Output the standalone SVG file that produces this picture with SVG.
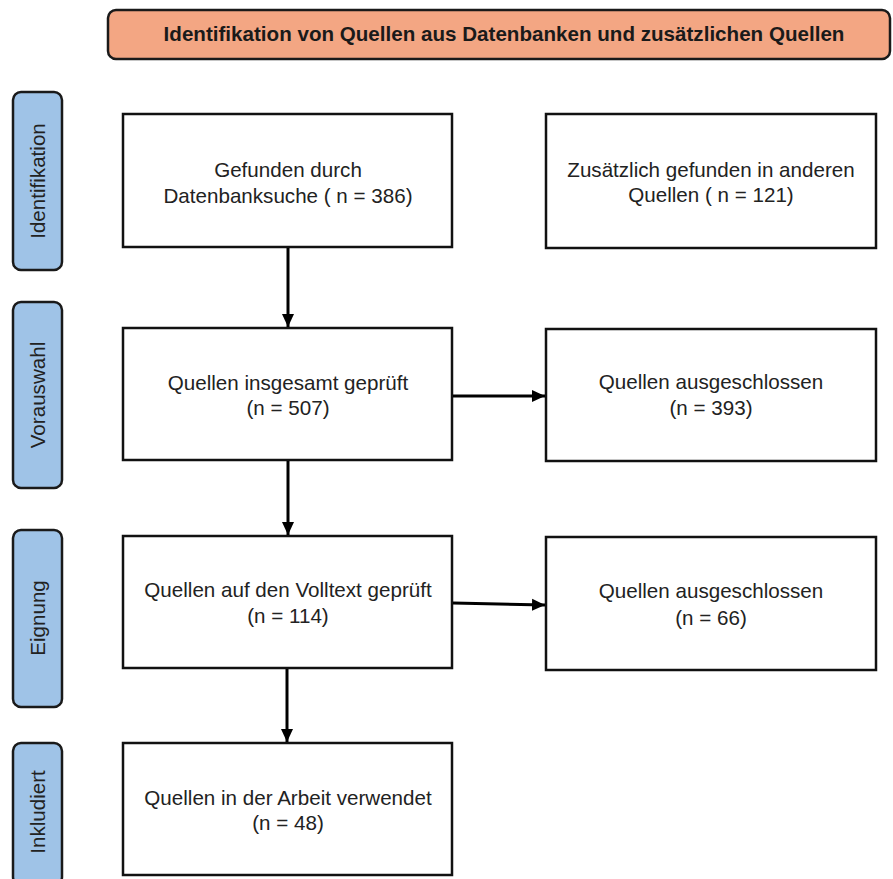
<svg xmlns="http://www.w3.org/2000/svg" width="893" height="879" viewBox="0 0 893 879">
<defs>
<style>
.box{fill:#fff;stroke:#111;stroke-width:2.5}
.lane{fill:#9fc3e7;stroke:#1a1a1a;stroke-width:2.5}
.t{font-family:"Liberation Sans",Arial,sans-serif;font-size:20.6px;fill:#222;text-anchor:middle}
.title{font-family:"Liberation Sans",Arial,sans-serif;font-size:20.6px;font-weight:bold;fill:#1a1a1a;text-anchor:middle}
.conn{stroke:#000;stroke-width:3;fill:none}
</style>
<marker id="ah" markerUnits="userSpaceOnUse" markerWidth="14" markerHeight="14" viewBox="0 0 14 14" refX="13" refY="7" orient="auto">
<path d="M0,1 L13,7 L0,13 Z" fill="#000"/>
</marker>
</defs>
<rect width="893" height="879" fill="#fff"/>
<g id="banner">
<rect x="108" y="10" width="782" height="49" rx="8" fill="#f3a683" stroke="#1a1a1a" stroke-width="2.5"/>
<text class="title" x="504" y="41">Identifikation von Quellen aus Datenbanken und zusätzlichen Quellen</text>
</g>
<g id="lane-identifikation">
<rect class="lane" x="13" y="92" width="49" height="178" rx="8"/>
<text class="t" transform="translate(45,181) rotate(-90)">Identifikation</text>
</g>
<g id="lane-vorauswahl">
<rect class="lane" x="13" y="302" width="49" height="186" rx="8"/>
<text class="t" transform="translate(45,395) rotate(-90)">Vorauswahl</text>
</g>
<g id="lane-eignung">
<rect class="lane" x="13" y="530" width="49" height="177" rx="8"/>
<text class="t" transform="translate(45,618) rotate(-90)">Eignung</text>
</g>
<g id="lane-inkludiert">
<rect class="lane" x="13" y="743" width="49" height="142" rx="8"/>
<text class="t" transform="translate(45,812) rotate(-90)">Inkludiert</text>
</g>
<g id="n-datenbank">
<rect class="box" x="123" y="114" width="329" height="133"/>
<text class="t" x="288" y="177">Gefunden durch</text>
<text class="t" x="288" y="203">Datenbanksuche ( n = 386)</text>
</g>
<g id="n-zusaetzlich">
<rect class="box" x="546" y="114" width="330" height="134"/>
<text class="t" x="711" y="177">Zusätzlich gefunden in anderen</text>
<text class="t" x="711" y="202">Quellen ( n = 121)</text>
</g>
<g id="n-geprueft">
<rect class="box" x="123" y="328" width="329" height="132"/>
<text class="t" x="288" y="390">Quellen insgesamt geprüft</text>
<text class="t" x="288" y="415">(n = 507)</text>
</g>
<g id="n-ausgeschlossen1">
<rect class="box" x="546" y="329" width="330" height="132"/>
<text class="t" x="711" y="389">Quellen ausgeschlossen</text>
<text class="t" x="711" y="415">(n = 393)</text>
</g>
<g id="n-volltext">
<rect class="box" x="123" y="536" width="329" height="132"/>
<text class="t" x="288" y="597">Quellen auf den Volltext geprüft</text>
<text class="t" x="288" y="623">(n = 114)</text>
</g>
<g id="n-ausgeschlossen2">
<rect class="box" x="546" y="537" width="330" height="133"/>
<text class="t" x="711" y="598">Quellen ausgeschlossen</text>
<text class="t" x="711" y="625">(n = 66)</text>
</g>
<g id="n-verwendet">
<rect class="box" x="123" y="743" width="329" height="132"/>
<text class="t" x="288" y="805">Quellen in der Arbeit verwendet</text>
<text class="t" x="288" y="830">(n = 48)</text>
</g>
<g id="connectors">
<line class="conn" x1="288" y1="248" x2="288" y2="327" marker-end="url(#ah)"/>
<line class="conn" x1="288" y1="461" x2="288" y2="535" marker-end="url(#ah)"/>
<line class="conn" x1="287" y1="669" x2="287" y2="742" marker-end="url(#ah)"/>
<line class="conn" x1="453" y1="396" x2="545" y2="396" marker-end="url(#ah)"/>
<line class="conn" x1="453" y1="603" x2="545" y2="605" marker-end="url(#ah)"/>
</g>
</svg>
